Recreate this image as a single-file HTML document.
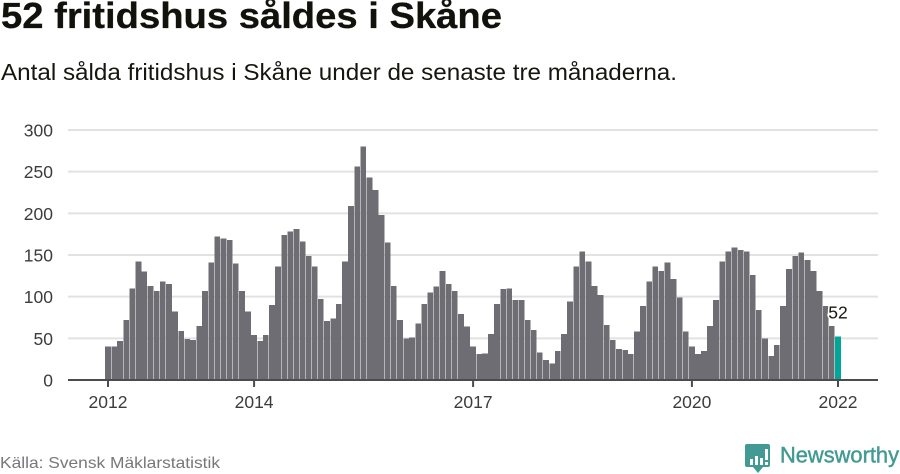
<!DOCTYPE html>
<html lang="sv">
<head>
<meta charset="utf-8">
<title>52 fritidshus såldes i Skåne</title>
<style>
html,body{margin:0;padding:0;background:#fff;width:900px;height:474px;overflow:hidden}
svg{display:block;font-family:"Liberation Sans","Noto Sans CJK JP",sans-serif}
</style>
</head>
<body>
<svg id="chart" width="900" height="474" viewBox="0 0 900 474" xmlns="http://www.w3.org/2000/svg">
  <text x="1" y="28" font-size="36" font-weight="700" fill="#12120c" stroke="#12120c" stroke-width="0.3" textLength="501" lengthAdjust="spacingAndGlyphs">52 fritidshus såldes i Skåne</text>
  <text x="1" y="80" font-size="23" fill="#16160f" textLength="676" lengthAdjust="spacingAndGlyphs">Antal sålda fritidshus i Skåne under de senaste tre månaderna.</text>
  <g id="grid"></g>
  <g id="bars" shape-rendering="crispEdges"></g>
  <g id="yaxis"></g>
  <g id="xaxis"></g>
  <g id="labels"></g>
  <text x="0" y="468" font-size="16" fill="#77777c" textLength="220" lengthAdjust="spacingAndGlyphs">Källa: Svensk Mäklarstatistik</text>
  <g>
    <path d="M747 444h21a2 2 0 0 1 2 2v19a2 2 0 0 1-2 2h-5l-5 6-5-6h-6a2 2 0 0 1-2-2v-19a2 2 0 0 1 2-2z" fill="#429a92"/>
    <rect x="750" y="459" width="3" height="6" fill="#fff"/>
    <rect x="755" y="456" width="3" height="9" fill="#fff"/>
    <rect x="760" y="458" width="3" height="7" fill="#fff"/>
    <rect x="765" y="449" width="3" height="11" fill="#fff"/>
    <rect x="765" y="462" width="3" height="3" fill="#fff"/>
    <text x="780" y="462.5" font-size="22" fill="#429a92" stroke="#429a92" stroke-width="0.45" textLength="119" lengthAdjust="spacingAndGlyphs">Newsworthy</text>
  </g>
</svg>
<script>
const startYear = 2012;
const values = [
  40,40,47,72,110,142,130,113,107,118,115,82,
  59,49,48,65,107,141,172,170,168,140,107,82,
  54,47,54,90,136,174,178,181,166,149,136,97,
  71,74,91,142,209,256,280,243,228,198,165,113,
  72,50,51,68,91,105,112,131,115,107,79,64,
  40,31,32,55,91,109,110,96,96,72,60,33,
  24,20,35,55,94,136,154,142,113,102,66,48,
  37,36,31,58,89,118,136,131,141,121,99,58,
  40,31,35,65,96,142,154,159,156,154,126,84,
  50,29,42,89,133,149,153,144,131,107,89,65,
  52
];
const yTicks = [0,50,100,150,200,250,300];
const xTickYears = [2012,2014,2017,2020,2022];
const labelledValue = [52];

const NS = 'http://www.w3.org/2000/svg';
const yBase = 380, yTop = 130, yMax = 300;
const xLeft = 108, xRight = 838;
const gridL = 68, gridR = 878;
const barWidth = 5.75;
const BAR = '#6e6d73', HIGHLIGHT = '#00a69a';

function y(v){ return yBase - (v / yMax) * (yBase - yTop); }
function x(yearVal, monthIdx){
  const t0 = Date.UTC(startYear, 0, 1);
  const t1 = Date.UTC(xTickYears[xTickYears.length - 1], 0, 1);
  return xLeft + (Date.UTC(yearVal, monthIdx, 1) - t0) / (t1 - t0) * (xRight - xLeft);
}
function make(tag, attrs, parent, text){
  const el = document.createElementNS(NS, tag);
  for (const k in attrs) el.setAttribute(k, attrs[k]);
  if (text !== undefined) el.textContent = text;
  parent.appendChild(el);
  return el;
}

const grid = document.getElementById('grid');
const yaxis = document.getElementById('yaxis');
yTicks.forEach(function(t){
  if (t > 0) {
    const g = make('line', {x1:gridL, x2:gridR, y1:y(t), y2:y(t), stroke:'#e2e2e2', 'stroke-width':2}, grid);
    
    
  }
  const l = make('text', {x:53, y:y(t) + 6.5, 'text-anchor':'end', 'font-size':17.5, fill:'#3c3c3f'}, yaxis, String(t));
  
  
});

const bars = document.getElementById('bars');
values.forEach(function(v, i){
  const yr = startYear + Math.floor(i / 12), mo = i % 12;
  const last = i === values.length - 1;
  const r = make('rect', {
    x: x(yr, mo) - barWidth / 2,
    y: y(v),
    width: barWidth,
    height: yBase - y(v),
    fill: last ? HIGHLIGHT : BAR
  }, bars);
  
  
});

const xaxis = document.getElementById('xaxis');
const axisLine = make('line', {x1:gridL, x2:gridR, y1:yBase, y2:yBase, stroke:'#4c4c50', 'stroke-width':2}, xaxis);


xTickYears.forEach(function(yr){
  const px = x(yr, 0);
  const tick = make('line', {x1:px, x2:px, y1:yBase, y2:yBase + 7, stroke:'#4c4c50', 'stroke-width':2}, xaxis);
  
  
  const lab = make('text', {x:px, y:408, 'text-anchor':'middle', 'font-size':17.5, fill:'#3c3c3f'}, xaxis, String(yr));
  
  
});

const labels = document.getElementById('labels');
const lastIdx = values.length - 1;
const lastLabel = make('text', {
  x: x(startYear + Math.floor(lastIdx / 12), lastIdx % 12),
  y: y(values[lastIdx]) - 18,
  'text-anchor':'middle', 'font-size':17.5, fill:'#16160f',
  stroke:'#fff', 'stroke-width':3, 'paint-order':'stroke'
}, labels, String(labelledValue[0]));


</script>
</body>
</html>
